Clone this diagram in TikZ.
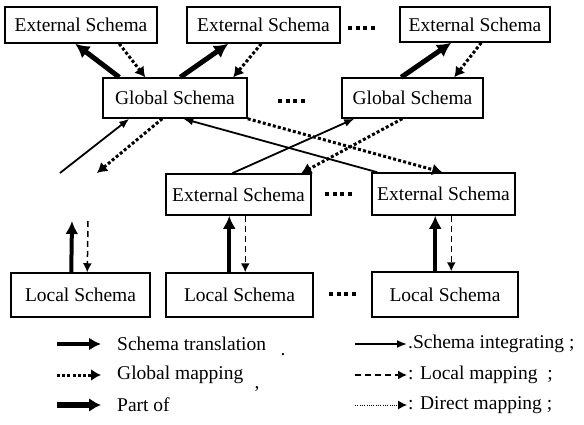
\documentclass[tikz,border=0pt]{standalone}
\usepackage{fontspec}
\setmainfont{Liberation Serif}
\usetikzlibrary{arrows.meta,calc}
\begin{document}
\begin{tikzpicture}[x=1pt,y=-1pt,
  txt/.style={font=\fontsize{19.5}{22}\selectfont},
  box/.style={txt, draw, line width=1.5pt, inner sep=0pt},
  lbl/.style={txt, inner sep=0pt, anchor=west},
  transarr/.style={line width=5pt, -{Latex[length=14pt,width=15pt]}},
  vtransarr/.style={line width=4pt, -{Latex[length=13pt,width=13pt]}},
  gmaparr/.style={line width=3pt, dash pattern=on 3pt off 2.2pt, -{Latex[length=10pt,width=12pt]}},
  intarr/.style={line width=1.8pt, -{Latex[length=10pt,width=8pt]}},
  lmaparr/.style={line width=1.5pt, dash pattern=on 6pt off 4pt, -{Latex[length=9pt,width=9pt]}},
  dmaparr/.style={line width=1pt, dash pattern=on 1pt off 1.3pt, -{Latex[length=9pt,width=9pt]}},
  partarr/.style={line width=5.5pt, -{Latex[length=12pt,width=14pt]}},
  ltransarr/.style={line width=3.8pt, -{Latex[length=12pt,width=13pt]}},
  dotsq/.style={fill=black}
]
\useasboundingbox (0,0) rectangle (584,425);
\fill[white] (0,0) rectangle (584,425);

% top row external schemas
\node[box, minimum width=152pt, minimum height=36pt] (E1) at (81,25) {External Schema};
\node[box, minimum width=153pt, minimum height=36pt] (E2) at (263.5,25) {External Schema};
\node[box, minimum width=150pt, minimum height=35pt] (E3) at (475,24.5) {External Schema};

% global schemas
\node[box, minimum width=144pt, minimum height=40pt] (G1) at (175,98) {Global Schema};
\node[box, minimum width=141pt, minimum height=40pt] (G2) at (412.5,98) {Global Schema};

% middle external schemas
\node[box, minimum width=145pt, minimum height=41pt] (M1) at (238.5,194.5) {External Schema};
\node[box, minimum width=143pt, minimum height=42pt] (M2) at (443.5,194) {External Schema};

% local schemas
\node[box, minimum width=139pt, minimum height=44pt] (L1) at (80.5,295) {Local Schema};
\node[box, minimum width=147pt, minimum height=44pt] (L2) at (239.5,295) {Local Schema};
\node[box, minimum width=146pt, minimum height=45pt] (L3) at (445,294.5) {Local Schema};

% ellipsis dots
\foreach \cx/\cy in {348/26, 278/99, 325/192, 329/292}{
  \foreach \i in {0,1,2,3}{
    \fill[dotsq] (\cx+\i*7.5,\cy) rectangle +(4.2,4);
  }
}

% top: global -> external (thick), external -> global (dotted)
\draw[transarr] ([xshift=17pt]G1.north west) -- ([xshift=71pt]E1.south west);
\draw[gmaparr] ([xshift=115pt]E1.south west) -- ([xshift=43pt]G1.north west);
\draw[transarr] ([xshift=78pt]G1.north west) -- ([xshift=42pt]E2.south west);
\draw[gmaparr] ([xshift=75pt]E2.south west) -- ([xshift=131pt]G1.north west);
\draw[transarr] ([xshift=60pt]G2.north west) -- ([xshift=52pt]E3.south west);
\draw[gmaparr] ([xshift=82pt]E3.south west) -- ([xshift=113pt]G2.north west);

% cross connectors
\coordinate (fa1) at (60,173);
\coordinate (fa2) at (97,173);
\draw[intarr] (fa1) -- ([xshift=27pt]G1.south west);
\draw[gmaparr] ([xshift=60pt]G1.south west) -- (fa2);
\draw[intarr] ([xshift=6pt]M2.north west) -- ([xshift=81pt]G1.south west);
\draw[intarr] ([xshift=67pt]M1.north west) -- ([xshift=13pt]G2.south west);
\draw[gmaparr] (G1.south east) -- ([xshift=71pt]M2.north west);
\draw[gmaparr] ([xshift=61pt]G2.south west) -- ([xshift=136pt]M1.north west);

% vertical connectors
\coordinate (fv1) at (72,221);
\coordinate (fv2) at (88,221);
\draw[vtransarr] ([xshift=61pt]L1.north west) -- (fv1);
\draw[lmaparr] (fv2) -- ([xshift=77pt]L1.north west);
\draw[vtransarr] ([xshift=64pt]L2.north west) -- ([xshift=64pt]M1.south west);
\draw[lmaparr] ([xshift=80pt]M1.south west) -- ([xshift=80pt]L2.north west);
\draw[vtransarr] ([xshift=64pt]L3.north west) -- ([xshift=64pt]M2.south west);
\draw[lmaparr] ([xshift=80pt]M2.south west) -- ([xshift=80pt]L3.north west);

% legend left
\coordinate (la1) at (57,344); \coordinate (lb1) at (101,344);
\coordinate (la2) at (57,375); \coordinate (lb2) at (101,375);
\coordinate (la3) at (57,405); \coordinate (lb3) at (101,405);
\draw[ltransarr] (la1) -- (lb1);
\draw[gmaparr] (la2) -- (lb2);
\draw[partarr] (la3) -- (lb3);
\node[lbl] (t1) at (117,344) {Schema translation};
\node[lbl] (t2) at (117,375) {Global mapping};
\node[lbl] (t3) at (117,405) {Part of};
\node[txt, inner sep=0pt] (p1) at (283,355) {.};
\node[txt, inner sep=0pt] (p2) at (257,389) {,};

% legend right
\coordinate (ra1) at (355,344); \coordinate (rb1) at (407,344);
\coordinate (ra2) at (355,375); \coordinate (rb2) at (407,375);
\coordinate (ra3) at (355,405); \coordinate (rb3) at (407,405);
\draw[intarr] (ra1) -- (rb1);
\draw[lmaparr] (ra2) -- (rb2);
\draw[dmaparr] (ra3) -- (rb3);
\node[lbl] (r1) at (408,344) {.Schema integrating ;};
\node[lbl] (r2) at (408,375) {: Local mapping \ ;};
\node[lbl] (r3) at (408,405) {: Direct mapping ;};
\end{tikzpicture}
\end{document}
